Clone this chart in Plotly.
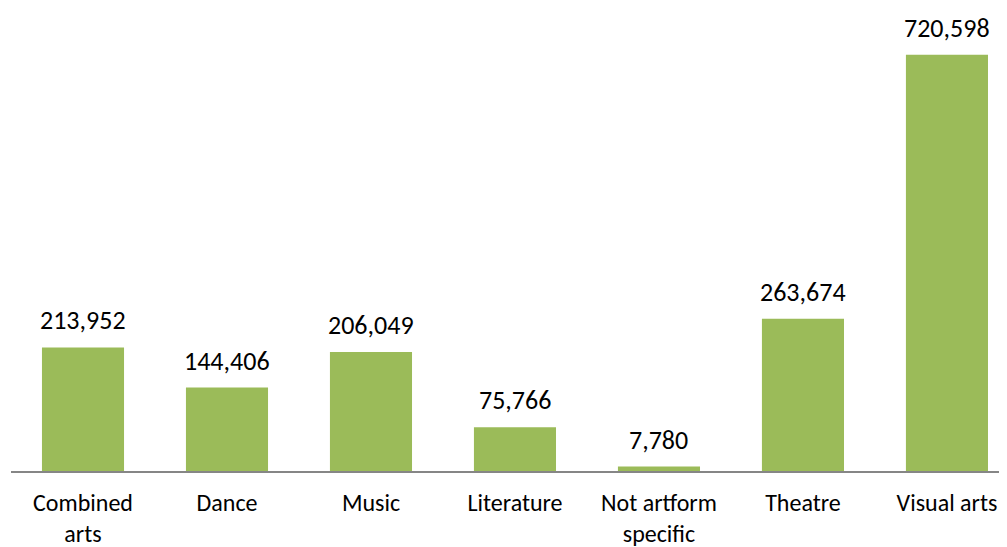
import plotly.graph_objects as go

categories = ["Combined<br>arts", "Dance", "Music", "Literature", "Not artform<br>specific", "Theatre", "Visual arts"]
values = [213952, 144406, 206049, 75766, 7780, 263674, 720598]

FONT = "Carlito, Calibri, Lato, sans-serif"

fig = go.Figure()
fig.add_trace(go.Bar(
    x=list(range(len(categories))),
    y=values,
    marker=dict(color="#9BBB59", line=dict(width=0)),
    width=0.57,
    hoverinfo="skip",
))

for i, v in enumerate(values):
    fig.add_annotation(
        x=i, y=v, text=f"{v:,}", showarrow=False,
        yanchor="middle", yshift=27,
        font=dict(family=FONT, size=26, color="#000000"),
    )

# page body has an 8px margin, so the figure is sized to end at the window edge
fig.update_layout(
    width=999, height=539,
    margin=dict(l=3, r=0, t=1, b=76),
    paper_bgcolor="white", plot_bgcolor="white",
    showlegend=False,
    font=dict(family=FONT, size=26, color="#000000"),
)
fig.update_xaxes(
    tickmode="array",
    tickvals=list(range(len(categories))),
    ticktext=categories,
    range=[-0.5, 6.417],
    automargin=False,
    showgrid=False, zeroline=False,
    showline=True, linecolor="#868686", linewidth=2,
    ticks="outside", ticklen=9, tickcolor="rgba(0,0,0,0)",
    tickfont=dict(family=FONT, size=24, color="#000000"),
)
fig.update_yaxes(
    range=[0, 800000],
    visible=False, automargin=False,
    showgrid=False, zeroline=False,
)

fig.write_html("out.html")
